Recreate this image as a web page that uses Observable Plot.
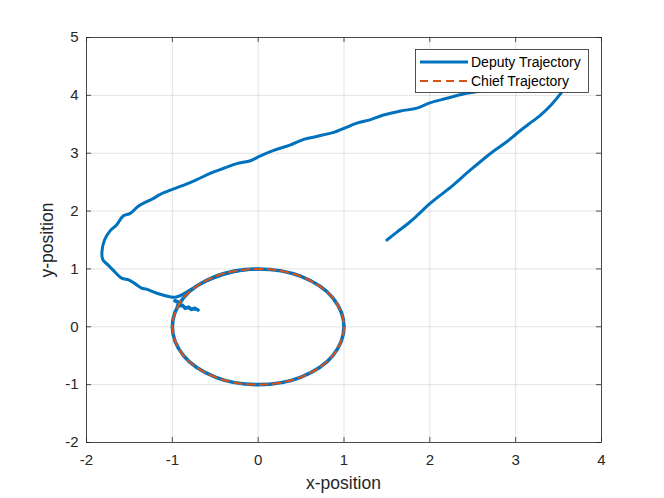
<!DOCTYPE html>
<html><head><meta charset="utf-8">
<script src="https://cdn.jsdelivr.net/npm/d3@7"></script>
<script src="https://cdn.jsdelivr.net/npm/@observablehq/plot@0.6"></script>
<style>body{margin:0;background:#fff}#chart{width:664px;height:498px}</style>
</head><body><div id="chart"></div>
<script>
const xTicks = [-2, -1, 0, 1, 2, 3, 4];
const yTicks = [-2, -1, 0, 1, 2, 3, 4, 5];

// Deputy approach path (the part under the legend is estimated)
const approachX = [1.50,1.62,1.75,1.85,2.01,2.24,2.45,2.71,2.88,3.02,3.15,3.29,3.41,3.54,
  3.62,3.68,3.66,3.55,3.35,3.10,2.90,2.75,
  2.61,2.38,2.20,2.00,1.85,1.66,1.46,1.31,1.15,1.00,0.88,0.68,0.53,0.37,0.18,0.02,-0.09,-0.25,-0.40,-0.56,-0.72,-0.83,-0.99,-1.14,-1.22,-1.26,-1.40,-1.49,-1.57,-1.65,-1.73,-1.79,-1.82,-1.81,-1.75,-1.69,-1.59,-1.51,-1.44,-1.36,-1.30,-1.18,-1.03,-0.97,
  -0.88,-0.72,-0.52,-0.28,0.00];
const approachY = [1.50,1.64,1.79,1.92,2.14,2.41,2.68,3.00,3.18,3.35,3.50,3.66,3.83,4.06,
  4.22,4.38,4.52,4.60,4.58,4.45,4.25,4.13,
  4.08,4.02,3.95,3.87,3.78,3.73,3.66,3.58,3.52,3.43,3.36,3.29,3.24,3.14,3.05,2.95,2.87,2.82,2.74,2.65,2.54,2.47,2.38,2.29,2.22,2.19,2.08,1.96,1.92,1.76,1.65,1.50,1.30,1.16,1.07,0.98,0.84,0.81,0.75,0.67,0.65,0.58,0.52,0.51,
  0.56,0.70,0.84,0.95,1.00];

// Deputy orbit around the chief
const orbitX = [1.00,0.87,0.50,0.00,-0.50,-0.87,-1.00,-0.87,-0.50,0.00,0.50,0.87];
const orbitY = [0.00,0.50,0.87,1.00,0.87,0.50,0.00,-0.50,-0.87,-1.00,-0.87,-0.50];

// Deputy final settling wiggle
const settleX = [-0.97,-0.92,-0.94,-0.88,-0.85,-0.81,-0.78,-0.74,-0.70];
const settleY = [0.45,0.42,0.36,0.37,0.32,0.34,0.30,0.32,0.29];

// Chief trajectory (unit circle)
const chiefX = [1.00,0.87,0.50,0.00,-0.50,-0.87,-1.00,-0.87,-0.50,0.00,0.50,0.87];
const chiefY = [0.00,0.50,0.87,1.00,0.87,0.50,0.00,-0.50,-0.87,-1.00,-0.87,-0.50];

const legendLabels = ["Deputy Trajectory", "Chief Trajectory"];

const zip = (X, Y) => X.map((x, i) => ({x, y: Y[i]}));
const approach = zip(approachX, approachY);
const orbit = zip(orbitX, orbitY);
const settle = zip(settleX, settleY);
const chief = zip(chiefX, chiefY);

const BLUE = "#0072BD", ORANGE = "#D95319", AX = "#262626";
const FONT = "'Liberation Sans', Arial, Helvetica, sans-serif";
const fmt = d => String(d);

const plot = Plot.plot({
  width: 664, height: 498,
  marginLeft: 86, marginRight: 63, marginTop: 37, marginBottom: 56,
  style: {fontFamily: FONT, fontSize: "15px", color: AX, background: "#fff"},
  x: {domain: [-2, 4], label: null},
  y: {domain: [-2, 5], label: null},
  marks: [
    Plot.gridX(xTicks, {stroke: AX, strokeOpacity: 0.13, strokeWidth: 1}),
    Plot.gridY(yTicks, {stroke: AX, strokeOpacity: 0.13, strokeWidth: 1}),
    Plot.line(approach, {x: "x", y: "y", curve: "catmull-rom", stroke: BLUE, strokeWidth: 3, strokeLinejoin: "round"}),
    Plot.line(orbit, {x: "x", y: "y", curve: "catmull-rom-closed", stroke: BLUE, strokeWidth: 3.6}),
    Plot.line(settle, {x: "x", y: "y", stroke: BLUE, strokeWidth: 3.6, strokeLinejoin: "round"}),
    Plot.line(chief, {x: "x", y: "y", curve: "catmull-rom-closed", stroke: ORANGE, strokeWidth: 2, strokeDasharray: "8,5"}),
    Plot.frame({stroke: AX, strokeWidth: 0.8}),
    Plot.tickX(xTicks, {x: d => d, insetTop: 400, stroke: AX, strokeWidth: 0.8}),
    Plot.tickX(xTicks, {x: d => d, insetBottom: 400, stroke: AX, strokeWidth: 0.8}),
    Plot.tickY(yTicks, {y: d => d, insetRight: 510, stroke: AX, strokeWidth: 0.8}),
    Plot.tickY(yTicks, {y: d => d, insetLeft: 510, stroke: AX, strokeWidth: 0.8}),
    Plot.axisX(xTicks, {tickSize: 0, tickPadding: 12, tickFormat: fmt, label: null, fill: AX}),
    Plot.axisY(yTicks, {tickSize: 0, tickPadding: 8, tickFormat: fmt, label: null, fill: AX})
  ]
});
document.getElementById("chart").appendChild(plot);

const svg = d3.select(plot);
// Axis labels
svg.append("text").attr("x", 343.5).attr("y", 489).attr("text-anchor", "middle")
  .attr("font-family", FONT).attr("font-size", 17.5).attr("fill", AX).text("x-position");
svg.append("text").attr("transform", "translate(53,240) rotate(-90)").attr("text-anchor", "middle")
  .attr("font-family", FONT).attr("font-size", 17.5).attr("fill", AX).text("y-position");

// Legend
const lg = svg.append("g");
lg.append("rect").attr("x", 415.5).attr("y", 49.5).attr("width", 173).attr("height", 43)
  .attr("fill", "#fff").attr("stroke", AX).attr("stroke-width", 0.8);
const styles = [{stroke: BLUE, w: 3, dash: "none"}, {stroke: ORANGE, w: 2, dash: "8,5"}];
legendLabels.forEach((t, i) => {
  const yy = 62 + i * 19;
  lg.append("line").attr("x1", 420).attr("x2", 468).attr("y1", yy).attr("y2", yy)
    .attr("stroke", styles[i].stroke).attr("stroke-width", styles[i].w)
    .attr("stroke-dasharray", styles[i].dash);
  lg.append("text").attr("x", 471).attr("y", yy + 5).attr("text-anchor", "start")
    .attr("font-family", FONT).attr("font-size", 14).attr("fill", "#000").text(t);
});
</script>
</body></html>
